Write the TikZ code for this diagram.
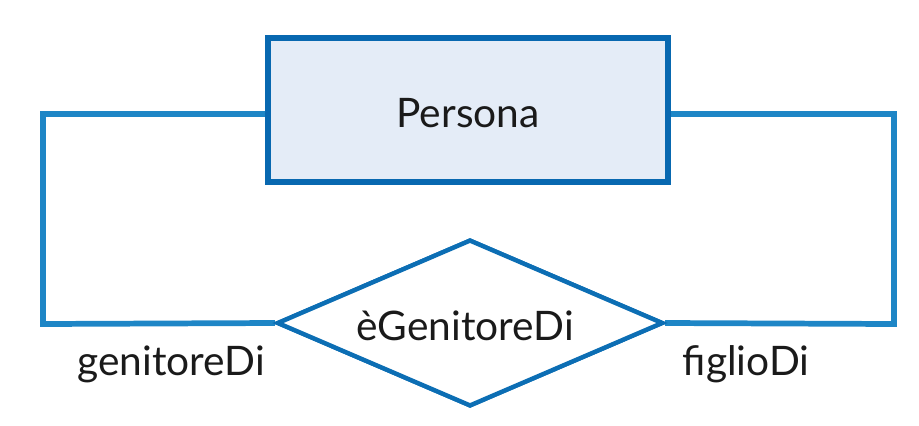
\documentclass[tikz,border=0pt]{standalone}
\usepackage{fontspec}
\setmainfont{Lato}
\usetikzlibrary{shapes.geometric,calc}
\definecolor{boxborder}{HTML}{0868B0}
\definecolor{boxfill}{HTML}{E4ECF7}
\definecolor{linkblue}{HTML}{1E86C6}
\definecolor{txt}{HTML}{1A1A1A}
\tikzset{
  entity/.style={draw=boxborder, fill=boxfill, line width=4.5pt, minimum width=300pt, minimum height=108pt, inner sep=0pt},
  relation/.style={diamond, draw=boxborder!80!linkblue, fill=white, line width=3.3pt, minimum width=289.5pt, minimum height=125pt, inner sep=0pt},
  link/.style={draw=linkblue, line width=4.3pt},
  lbl/.style={font=\fontsize{30.5}{34}\selectfont, text=txt, inner sep=0pt, anchor=base}
}
\begin{document}
\begin{tikzpicture}[x=0.75pt,y=-0.75pt]
\useasboundingbox (0,0) rectangle (919,425);
\node[entity] (persona) at (468,110) {};
\node[relation] (rel) at (470,323) {};
\coordinate (lt) at (43,114);
\coordinate (lb) at (43,324);
\coordinate (rt) at (894,114);
\coordinate (rb) at (894,324);
\draw[link] ($(persona.west)+(0,4)$) -- (lt) -- (lb) -- (rel.west);
\draw[link] ($(persona.east)+(0,4)$) -- (rt) -- (rb) -- (rel.east);
\node[entity] at (persona) {};
\node[relation] at (rel) {};
\node[lbl] (personatext) at (468,127) {Persona};
\node[lbl] (reltext) at (465,340) {èGenitoreDi};
\node[lbl] (gen) at (171,375) {genitoreDi};
\node[lbl] (fig) at (746,375) {figlioDi};
\end{tikzpicture}
\end{document}
